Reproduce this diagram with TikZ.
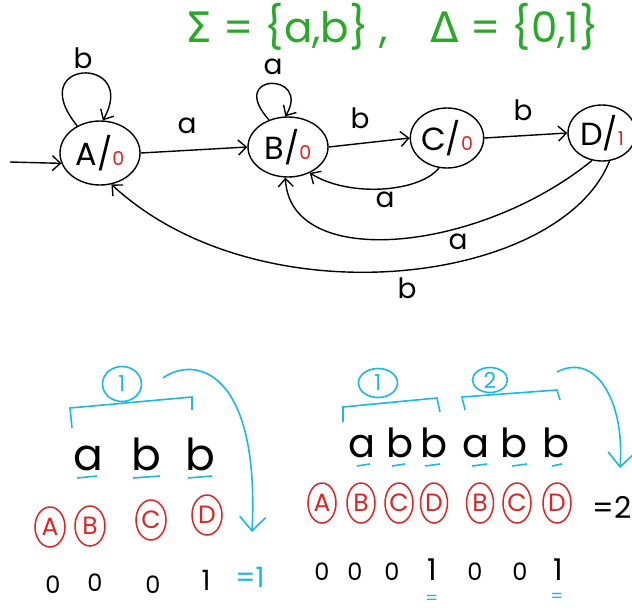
\documentclass[tikz,border=0pt]{standalone}
\usepackage{fontspec}
\setmainfont{Poppins}
\newfontfamily\grk{DejaVu Sans}
\usetikzlibrary{arrows.meta,shapes.geometric}
\definecolor{hgreen}{RGB}{40,170,40}
\definecolor{hcyan}{RGB}{25,185,225}
\definecolor{hred}{RGB}{225,35,35}
\begin{document}
\begin{tikzpicture}[x=1pt,y=-1pt,
  state/.style={draw,ellipse,line width=1.4pt,inner sep=0pt,font=\fontsize{32}{32}\selectfont},
  edge/.style={line width=1.4pt,-{Straight Barb[length=8pt,width=15pt]}},
  lbl/.style={inner sep=1pt,font=\fontsize{28}{28}\selectfont},
  cy/.style={draw=hcyan,line width=1.6pt},
  cyarrow/.style={cy,-{Straight Barb[length=14pt,width=26pt]}},
  cnum/.style={draw=hcyan,ellipse,line width=1.6pt,inner sep=0pt,text=hcyan,font=\fontsize{22}{22}\selectfont},
  rc/.style={draw=hred,ellipse,line width=1.5pt,minimum width=30pt,minimum height=40pt,inner sep=0pt,text=hred,font=\fontsize{25}{25}\selectfont},
  big/.style={anchor=base,font=\fontsize{44}{44}\selectfont},
  bigr/.style={anchor=base,font=\fontsize{40}{40}\selectfont},
  dig/.style={anchor=base,font=\fontsize{24}{24}\selectfont},
  und/.style={text=hcyan,inner sep=0pt,font=\fontsize{18}{18}\selectfont}
]
\clip (0,0) rectangle (632,611);
\fill[white] (0,0) rectangle (632,611);
% alphabet line
\node[text=hgreen,inner sep=0pt,font=\fontsize{42}{42}\selectfont] (sig) at (392,27)
  {{\grk Σ} = \{a,b\}\ ,\quad {\grk Δ} = \{0,1\}};
% states
\node[state,minimum width=80pt,minimum height=64pt] (A) at (100,153) {A/\textcolor{hred}{\fontsize{19}{19}\selectfont 0}};
\node[state,minimum width=80pt,minimum height=60pt] (B) at (288,147) {B/\textcolor{hred}{\fontsize{19}{19}\selectfont 0}};
\node[state,minimum width=72pt,minimum height=60pt] (C) at (447,138) {C/\textcolor{hred}{\fontsize{19}{19}\selectfont 0}};
\node[state,minimum width=68pt,minimum height=56pt] (D) at (602,133) {D/\textcolor{hred}{\fontsize{19}{19}\selectfont 1}};
\coordinate (in) at (10,162);
\draw[edge] (in) -- (A.195);
\draw[edge] (A.130) .. controls (22,58) and (140,55) .. (A.85);
\draw[edge] (B.125) .. controls (226,72) and (312,72) .. (B.95);
\draw[edge] (A.east) -- (B.west);
\draw[edge] (B.east) -- (C.west);
\draw[edge] (C.east) -- (D.west);
\draw[edge] (C.255) .. controls (420,192) and (350,198) .. (B.-50);
\draw[edge] (D.250) .. controls (480,252) and (290,272) .. (B.265);
\draw[edge] (D.285) .. controls (560,285) and (260,322) .. (A.290);
\node[lbl] (lb1) at (83,58) {b};
\node[lbl] (la1) at (273,67) {a};
\node[lbl] (la2) at (187,126) {a};
\node[lbl] (lb2) at (360,118) {b};
\node[lbl] (lb3) at (523,110) {b};
\node[lbl] (la3) at (385,200) {a};
\node[lbl] (la4) at (458,242) {a};
\node[lbl] (lb4) at (407,288) {b};
% ---------- bottom left
\node[cnum,minimum width=39pt,minimum height=35pt] (n1) at (122,384) {1};
\draw[cy] (72,428) -- (70,408) -- (192,397) -- (192,410);
\coordinate (s1) at (163,378);
\coordinate (e1) at (252,532);
\draw[cyarrow] (s1) .. controls (195,355) and (260,370) .. (e1);
\node[big] (w1) at (88,470) {a};
\node[big] (w2) at (146,470) {b};
\node[big] (w3) at (200,470) {b};
\draw[cy] (77,478) -- (97,476);
\draw[cy] (133,478) -- (160,476);
\draw[cy] (188,478) -- (212,476);
\node[rc] (ra) at (50,527) {A};
\node[rc] (rb) at (90,526) {B};
\node[rc] (rcc) at (151,520) {C};
\node[rc] (rd) at (207,515) {D};
\node[dig] (d1) at (53,593) {0};
\node[dig] (d2) at (95,591) {0};
\node[dig] (d3) at (153,593) {0};
\node[dig,font=\fontsize{28}{28}\selectfont] (d4) at (206,590) {1};
\node[dig,text=hcyan,font=\fontsize{28}{28}\selectfont] (eq1) at (250,587) {=1};
% ---------- bottom right
\node[cnum,minimum width=39pt,minimum height=29pt] (n2) at (378,383) {1};
\node[cnum,minimum width=35pt,minimum height=25pt] (n3) at (490,380) {2};
\draw[cy] (343,422) -- (343,407) -- (437,398) -- (440,412);
\draw[cy] (465,410) -- (462,397) -- (557,390) -- (560,400);
\coordinate (s2) at (557,372);
\coordinate (e2) at (620,468);
\draw[cyarrow] (s2) .. controls (595,352) and (625,400) .. (e2);
\node[bigr] (v1) at (362,457) {a};
\node[bigr] (v2) at (400,457) {b};
\node[bigr] (v3) at (434,457) {b};
\node[bigr] (v4) at (476,457) {a};
\node[bigr] (v5) at (514,457) {b};
\node[bigr] (v6) at (556,457) {b};
\draw[cy] (357,466) -- (370,464);
\draw[cy] (392,466) -- (405,464);
\draw[cy] (425,466) -- (440,464);
\draw[cy] (472,466) -- (487,464);
\draw[cy] (512,466) -- (527,464);
\draw[cy] (552,466) -- (562,464);
\node[rc,minimum width=28pt] (q1) at (322,503) {A};
\node[rc,minimum width=28pt] (q2) at (361,503) {B};
\node[rc,minimum width=28pt] (q3) at (399,503) {C};
\node[rc,minimum width=27pt] (q4) at (434,503) {D};
\node[rc,minimum width=27pt] (q5) at (480,503) {B};
\node[rc,minimum width=28pt] (q6) at (517,503) {C};
\node[rc,minimum width=28pt] (q7) at (557,503) {D};
\node[anchor=base,font=\fontsize{30}{30}\selectfont] (eq2) at (612,518) {=2};
\node[dig] (b1) at (322,580) {0};
\node[dig] (b2) at (355,580) {0};
\node[dig] (b3) at (392,580) {0};
\node[dig,font=\fontsize{30}{30}\selectfont] (b4) at (432,580) {1};
\node[dig] (b5) at (475,580) {0};
\node[dig] (b6) at (520,580) {0};
\node[dig,font=\fontsize{30}{30}\selectfont] (b7) at (558,580) {1};
\node[und] (u1) at (432,600) {=};
\node[und] (u2) at (557,598) {=};
\end{tikzpicture}
\end{document}
